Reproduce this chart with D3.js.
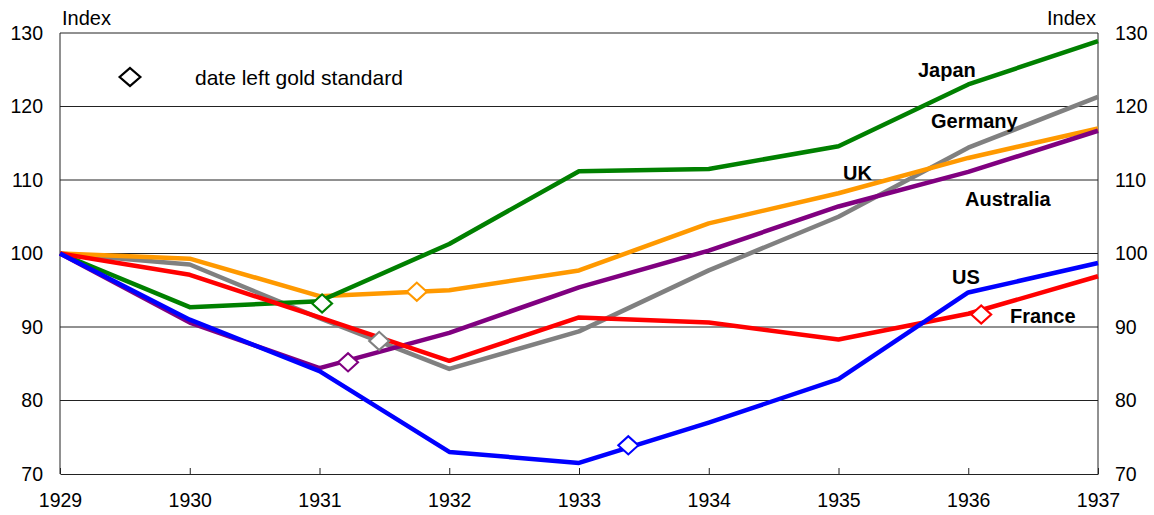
<!DOCTYPE html>
<html>
<head>
<meta charset="utf-8">
<script src="https://cdn.jsdelivr.net/npm/d3@7"></script>
<style>
body { margin: 0; background: #fff; }
text { font-family: Arial, "Liberation Sans", sans-serif; fill: #000; }
.tick-label { font-size: 19.5px; }
.unit { font-size: 20px; }
.legend-text { font-size: 21px; }
.series-label { font-size: 20px; font-weight: bold; }
</style>
</head>
<body>
<div id="chart"></div>
<script>
// data
var years = [1929, 1930, 1931, 1932, 1933, 1934, 1935, 1936, 1937];
var yTicks = [70, 80, 90, 100, 110, 120, 130];

var japan     = [100, 92.7, 93.5, 101.3, 111.2, 111.5, 114.6, 123.0, 128.9];
var germany   = [100, 98.5, 91.2, 84.3, 89.4, 97.7, 105.0, 114.4, 121.3];
var uk        = [100, 99.3, 94.2, 95.0, 97.7, 104.1, 108.2, 113.0, 117.0];
var australia = [100, 90.6, 84.4, 89.2, 95.4, 100.4, 106.4, 111.1, 116.7];
var france    = [100, 97.1, 91.3, 85.4, 91.3, 90.6, 88.3, 91.8, 96.9];
var us        = [100, 91.0, 84.0, 73.0, 71.5, 77.0, 82.9, 94.7, 98.7];

// date each country left gold standard [year, index]
var goldExit = {
  Japan: [1931.02, 93.2],
  Germany: [1931.46, 88.1],
  UK: [1931.75, 94.8],
  Australia: [1931.22, 85.2],
  France: [1936.1, 91.7],
  US: [1933.38, 73.9]
};

var series = [
  {name: "Germany", values: germany, color: "#808080"},
  {name: "UK", values: uk, color: "#FF9900"},
  {name: "Japan", values: japan, color: "#008000"},
  {name: "Australia", values: australia, color: "#800080"},
  {name: "France", values: france, color: "#FF0000"},
  {name: "US", values: us, color: "#0000FF"}
];

// label placement (start of text, baseline)
var labelPos = {
  Japan: [918, 77], Germany: [931, 128], UK: [843, 180],
  Australia: [965, 206], US: [952, 284], France: [1010, 323]
};

var width = 1154, height = 515;
var margin = {top: 33, right: 56, bottom: 41, left: 60};

var svg = d3.select("#chart").append("svg")
  .attr("width", width)
  .attr("height", height);

var x = d3.scaleLinear().domain([1929, 1937]).range([margin.left, width - margin.right]);
var y = d3.scaleLinear().domain([70, 130]).range([height - margin.bottom, margin.top]);

// gridlines
svg.selectAll("line.grid")
  .data(yTicks.filter(function(d){ return d > 70; }))
  .enter().append("line")
  .attr("class", "grid")
  .attr("x1", x(1929)).attr("x2", x(1937))
  .attr("y1", function(d){ return y(d); })
  .attr("y2", function(d){ return y(d); })
  .attr("stroke", "#222")
  .attr("stroke-width", 1);

// frame sides
svg.append("line").attr("x1", x(1929)).attr("x2", x(1929)).attr("y1", y(130)).attr("y2", y(70)).attr("stroke", "#222");
svg.append("line").attr("x1", x(1937)).attr("x2", x(1937)).attr("y1", y(130)).attr("y2", y(70)).attr("stroke", "#222");

var xAxis = d3.axisBottom(x)
  .tickValues(years)
  .tickFormat(d3.format("d"))
  .tickSizeInner(-6)
  .tickSizeOuter(0)
  .tickPadding(19);

var gx = svg.append("g")
  .attr("transform", "translate(0," + y(70) + ")")
  .call(xAxis);
gx.attr("font-size", null).attr("font-family", null);
gx.select(".domain").attr("stroke", "#222");
gx.selectAll(".tick line").attr("stroke", "#222");
gx.selectAll(".tick text")
  .attr("class", "tick-label")
  .attr("fill", "#000");

// y labels both sides
svg.selectAll("text.yl")
  .data(yTicks).enter().append("text")
  .attr("class", "tick-label yl")
  .attr("x", 43)
  .attr("y", function(d){ return y(d); })
  .attr("dy", "0.35em")
  .attr("text-anchor", "end")
  .text(function(d){ return d; });

svg.selectAll("text.yr")
  .data(yTicks).enter().append("text")
  .attr("class", "tick-label yr")
  .attr("x", 1115)
  .attr("y", function(d){ return y(d); })
  .attr("dy", "0.35em")
  .attr("text-anchor", "start")
  .text(function(d){ return d; });

svg.append("text").attr("class", "unit").attr("x", 62).attr("y", 25).text("Index");
svg.append("text").attr("class", "unit").attr("x", 1096).attr("y", 25).attr("text-anchor", "end").text("Index");

var line = d3.line()
  .x(function(d, i){ return x(years[i]); })
  .y(function(d){ return y(d); });

svg.selectAll("path.series")
  .data(series).enter().append("path")
  .attr("class", "series")
  .attr("d", function(d){ return line(d.values); })
  .attr("fill", "none")
  .attr("stroke", function(d){ return d.color; })
  .attr("stroke-width", 4.5)
  .attr("stroke-linejoin", "round");

var diamond = d3.symbol().type(d3.symbolDiamond2).size(210);

svg.selectAll("path.marker")
  .data(series).enter().append("path")
  .attr("class", "marker")
  .attr("d", diamond)
  .attr("transform", function(d){
    var g = goldExit[d.name];
    return "translate(" + x(g[0]) + "," + y(g[1]) + ") scale(1.1,1)";
  })
  .attr("fill", "#fff")
  .attr("stroke", function(d){ return d.color; })
  .attr("stroke-width", 2);

svg.selectAll("text.series-label")
  .data(series).enter().append("text")
  .attr("class", "series-label")
  .attr("x", function(d){ return labelPos[d.name][0]; })
  .attr("y", function(d){ return labelPos[d.name][1]; })
  .text(function(d){ return d.name; });

// legend
svg.append("path")
  .attr("d", diamond)
  .attr("transform", "translate(130,77) scale(1.15,1)")
  .attr("fill", "#fff")
  .attr("stroke", "#000")
  .attr("stroke-width", 2);
svg.append("text").attr("class", "legend-text").attr("x", 195).attr("y", 85).text("date left gold standard");
</script>
</body>
</html>
